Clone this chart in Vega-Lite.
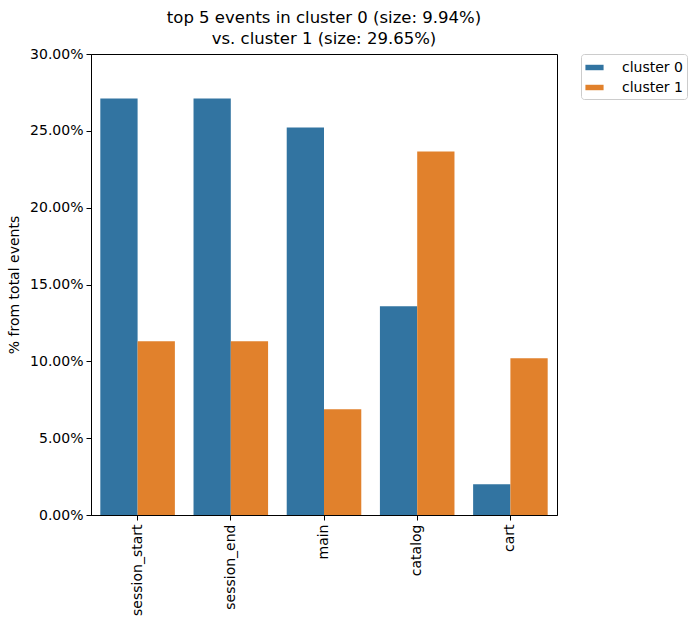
{
  "$schema": "https://vega.github.io/schema/vega-lite/v6.json",
  "autosize": {"type": "none"},
  "padding": {"left": 91, "top": 54, "right": 143, "bottom": 110},
  "width": 466,
  "height": 461,
  "title": {
    "text": ["top 5 events in cluster 0 (size: 9.94%)", "vs. cluster 1 (size: 29.65%)"],
    "anchor": "middle",
    "frame": "group",
    "font": "DejaVu Sans",
    "fontSize": 16.5,
    "fontWeight": "normal",
    "color": "black",
    "lineHeight": 21,
    "offset": 0
  },
  "data": {
    "values": [
      {"event": "session_start", "cluster": "cluster 0", "pct": 0.2711},
      {"event": "session_start", "cluster": "cluster 1", "pct": 0.1130},
      {"event": "session_end", "cluster": "cluster 0", "pct": 0.2711},
      {"event": "session_end", "cluster": "cluster 1", "pct": 0.1130},
      {"event": "main", "cluster": "cluster 0", "pct": 0.2522},
      {"event": "main", "cluster": "cluster 1", "pct": 0.0688},
      {"event": "catalog", "cluster": "cluster 0", "pct": 0.1358},
      {"event": "catalog", "cluster": "cluster 1", "pct": 0.2365},
      {"event": "cart", "cluster": "cluster 0", "pct": 0.0200},
      {"event": "cart", "cluster": "cluster 1", "pct": 0.1020}
    ]
  },
  "mark": {"type": "bar", "strokeWidth": 0},
  "encoding": {
    "x": {
      "field": "event",
      "type": "nominal",
      "sort": ["session_start", "session_end", "main", "catalog", "cart"],
      "scale": {"paddingInner": 0.2, "paddingOuter": 0.1},
      "axis": {"title": null, "labelAngle": -90, "labelPadding": 4}
    },
    "xOffset": {
      "field": "cluster",
      "type": "nominal",
      "scale": {"paddingInner": 0, "paddingOuter": 0}
    },
    "y": {
      "field": "pct",
      "type": "quantitative",
      "scale": {"domain": [0, 0.3], "nice": false},
      "axis": {
        "title": "% from total events",
        "format": ".2%",
        "values": [0, 0.05, 0.1, 0.15, 0.2, 0.25, 0.3],
        "titlePadding": 8
      }
    },
    "color": {
      "field": "cluster",
      "type": "nominal",
      "scale": {"domain": ["cluster 0", "cluster 1"], "range": ["#3274a1", "#e1812c"]},
      "legend": {
        "title": null,
        "orient": "right",
        "offset": 24,
        "padding": 4,
        "strokeColor": "#cccccc",
        "fillColor": "white",
        "cornerRadius": 3,
        "symbolType": "M-1,-0.3H1V0.3H-1Z",
        "symbolSize": 330,
        "symbolStrokeWidth": 0,
        "symbolOpacity": 1,
        "labelFont": "DejaVu Sans",
        "labelFontSize": 14,
        "labelColor": "black",
        "labelOffset": 18,
        "rowPadding": 3
      }
    }
  },
  "config": {
    "font": "DejaVu Sans",
    "view": {"stroke": "black", "strokeWidth": 1},
    "axis": {
      "grid": false,
      "domainColor": "black",
      "tickColor": "black",
      "tickSize": 5,
      "labelFont": "DejaVu Sans",
      "labelFontSize": 14,
      "labelColor": "black",
      "titleFont": "DejaVu Sans",
      "titleFontSize": 14,
      "titleFontWeight": "normal",
      "titleColor": "black",
      "labelPadding": 3
    }
  }
}
